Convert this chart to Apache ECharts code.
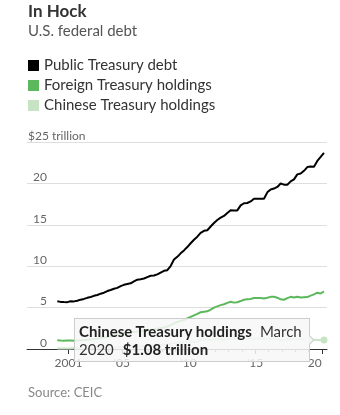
<!DOCTYPE html>
<html><head><meta charset="utf-8">
<script src="https://cdn.jsdelivr.net/npm/echarts@6/dist/echarts.min.js"></script>
<style>html,body{margin:0;padding:0;background:#fff}#c{width:340px;height:415px}</style>
</head><body><div id="c"></div>
<script>
// Quarter-end periods, Mar 2000 – Mar 2020
const periods = [
 '2000-03','2000-06','2000-09','2000-12','2001-03','2001-06','2001-09','2001-12',
 '2002-03','2002-06','2002-09','2002-12','2003-03','2003-06','2003-09','2003-12',
 '2004-03','2004-06','2004-09','2004-12','2005-03','2005-06','2005-09','2005-12',
 '2006-03','2006-06','2006-09','2006-12','2007-03','2007-06','2007-09','2007-12',
 '2008-03','2008-06','2008-09','2008-12','2009-03','2009-06','2009-09','2009-12',
 '2010-03','2010-06','2010-09','2010-12','2011-03','2011-06','2011-09','2011-12',
 '2012-03','2012-06','2012-09','2012-12','2013-03','2013-06','2013-09','2013-12',
 '2014-03','2014-06','2014-09','2014-12','2015-03','2015-06','2015-09','2015-12',
 '2016-03','2016-06','2016-09','2016-12','2017-03','2017-06','2017-09','2017-12',
 '2018-03','2018-06','2018-09','2018-12','2019-03','2019-06','2019-09','2019-12',
 '2020-03'
];
// $ trillion
const publicDebt = [
 5.77,5.69,5.67,5.66, 5.77,5.75,5.83,5.96, 6.05,6.18,6.28,6.42, 6.52,6.68,6.80,7.00,
 7.13,7.27,7.38,7.60, 7.75,7.84,7.93,8.17, 8.37,8.42,8.51,8.68, 8.85,8.87,9.01,9.23,
 9.44,9.52,10.02,10.80, 11.13,11.55,11.91,12.31, 12.77,13.20,13.56,14.03, 14.27,14.34,14.79,15.22,
 15.58,15.86,16.07,16.43, 16.77,16.74,16.74,17.35, 17.60,17.63,17.82,18.14, 18.15,18.15,18.15,18.92,
 19.26,19.38,19.57,19.98, 19.85,19.84,20.24,20.49, 21.09,21.20,21.52,21.97, 22.03,22.02,22.72,23.20,
 23.69
];
const foreignHoldings = [
 1.05,1.02,1.01,1.02, 1.03,1.01,1.03,1.05, 1.08,1.12,1.16,1.20, 1.25,1.32,1.38,1.45,
 1.55,1.65,1.75,1.85, 1.92,1.97,2.00,2.05, 2.10,2.15,2.20,2.25, 2.30,2.35,2.45,2.50,
 2.60,2.70,2.85,3.10, 3.26,3.40,3.50,3.69, 3.88,4.07,4.25,4.44, 4.50,4.55,4.75,5.00,
 5.15,5.30,5.40,5.57, 5.70,5.60,5.65,5.79, 5.95,6.00,6.05,6.15, 6.15,6.15,6.10,6.18,
 6.30,6.30,6.20,6.00, 5.95,6.15,6.30,6.21, 6.30,6.22,6.25,6.27, 6.45,6.60,6.80,6.70,
 6.95
];
const chineseHoldings = [
 0.06,0.06,0.06,0.06, 0.07,0.08,0.08,0.08, 0.09,0.10,0.11,0.12, 0.13,0.14,0.15,0.16,
 0.17,0.19,0.20,0.22, 0.24,0.26,0.29,0.31, 0.32,0.34,0.37,0.40, 0.42,0.45,0.47,0.48,
 0.50,0.52,0.62,0.73, 0.77,0.78,0.80,0.89, 0.90,0.84,0.88,1.16, 1.15,1.17,1.15,1.15,
 1.18,1.16,1.16,1.20, 1.25,1.28,1.29,1.27, 1.27,1.27,1.27,1.24, 1.26,1.27,1.26,1.25,
 1.25,1.24,1.16,1.06, 1.09,1.15,1.18,1.18, 1.19,1.19,1.15,1.12, 1.12,1.11,1.10,1.07,
 1.08
];
const seriesNames = ['Public Treasury debt','Foreign Treasury holdings','Chinese Treasury holdings'];
const yTicks = [0,5,10,15,20,25];
const yTickLabels = ['0','5','10','15','20','$25'];
const yUnit = 'trillion';
const xTicks = [2001,2005,2010,2015,2020];
const xTickLabels = ['2001',"'05","'10","'15",'20'];
const yearTicks = [2001,2002,2003,2004,2006,2007,2008,2009,2011,2012,2013,2014,2016,2017,2018,2019];
const monthNames = ['January','February','March','April','May','June','July','August','September','October','November','December'];

const FONT = 'Lato';
function toX(p){ const [y,m] = p.split('-').map(Number); return y + (m-1)/12; }
function pts(vals){ return periods.map((p,i)=>[toX(p), vals[i]]); }
const chineseData = pts(chineseHoldings).map((d,i,a)=> i===a.length-1 ? {value:d, symbol:'circle', symbolSize:7} : {value:d});

const xMin = 1997.894, xMax = 2020.392;
const chart = echarts.init(document.getElementById('c'), null, {renderer:'canvas'});
chart.setOption({
  animation:false,
  textStyle:{fontFamily:FONT},
  title:[
    {text:'In Hock', left:28, top:3, padding:0, textStyle:{fontFamily:FONT, fontSize:17, fontWeight:'bold', color:'#333'}},
    {text:'U.S. federal debt', left:28, top:24, padding:0, textStyle:{fontFamily:FONT, fontSize:15, fontWeight:'normal', color:'#555'}},
    {text:'Source: CEIC', left:28, top:386, padding:0, textStyle:{fontFamily:FONT, fontSize:13, fontWeight:'normal', color:'#888'}}
  ],
  legend:{
    orient:'vertical', left:28, top:58, padding:0, itemWidth:11, itemHeight:11, itemGap:5, icon:'rect',
    textStyle:{fontFamily:FONT, fontSize:15, color:'#333'}, selectedMode:false,
    data:seriesNames
  },
  grid:{left:27, right:13, top:142, bottom:66},
  tooltip:{
    trigger:'item', triggerOn:'none', alwaysShowContent:true, position:'left', transitionDuration:0,
    backgroundColor:'rgba(247,247,247,0.86)', borderColor:'#cccccc', borderWidth:1, padding:[3,4],
    textStyle:{fontFamily:FONT, fontSize:15, color:'#222'},
    extraCssText:'box-shadow:none;border-radius:0;line-height:18px;white-space:nowrap;width:226px;',
    formatter:function(p){
      const per = periods[p.dataIndex].split('-');
      const v = p.value[1];
      return '<b>'+p.seriesName+'</b><span style="margin-left:8px;color:#333">'+monthNames[+per[1]-1]+'</span><br>'+
        '<span style="color:#333">'+per[0]+'</span><b style="margin-left:9px">$'+v.toFixed(2)+' '+yUnit+'</b>';
    }
  },
  xAxis:[{
    type:'value', min:xMin, max:xMax,
    axisLine:{show:true, lineStyle:{color:'#333', width:1}},
    axisTick:{show:true, customValues:yearTicks, length:3, lineStyle:{color:'#555'}},
    axisLabel:{show:true, customValues:xTicks, margin:8, fontFamily:FONT, fontSize:12, color:'#666',
      alignMaxLabel:'right',
      formatter:function(v){ const i = xTicks.indexOf(Math.round(v)); return i>=0 ? xTickLabels[i] : ''; }},
    splitLine:{show:false}
  },{
    type:'value', min:xMin, max:xMax, position:'bottom',
    axisLine:{show:false}, axisLabel:{show:false}, splitLine:{show:false},
    axisTick:{show:true, customValues:xTicks, length:5, lineStyle:{color:'#333'}}
  }],
  yAxis:{
    type:'value', min:0, max:25, interval:5,
    axisLine:{show:false}, axisTick:{show:false},
    splitLine:{show:true, lineStyle:{color:'#dedede', width:1}},
    axisLabel:{
      inside:true, margin:1, align:'left', verticalAlign:'bottom', fontFamily:FONT, fontSize:12, color:'#666',
      formatter:function(v){
        const i = yTicks.indexOf(v); const t = i>=0 ? yTickLabels[i] : '';
        return v===25 ? '{w|'+t+'}{u| '+yUnit+'}' : '{n|'+t+'}';
      },
      rich:{
        n:{width:19, align:'right', fontFamily:FONT, fontSize:12, color:'#666'},
        w:{fontFamily:FONT, fontSize:12, color:'#666'},
        u:{fontFamily:FONT, fontSize:12, color:'#666'}
      }
    }
  },
  series:[
    {name:seriesNames[0], type:'line', data:pts(publicDebt), showSymbol:false, symbol:'none',
      lineStyle:{color:'#000', width:2}, itemStyle:{color:'#000'}, emphasis:{disabled:true}, z:3},
    {name:seriesNames[1], type:'line', data:pts(foreignHoldings), showSymbol:false, symbol:'none',
      lineStyle:{color:'#5cb85c', width:2}, itemStyle:{color:'#5cb85c'}, emphasis:{disabled:true}, z:2},
    {name:seriesNames[2], type:'line', data:chineseData, showSymbol:true, symbol:'none',
      lineStyle:{color:'#c6e4c3', width:2}, itemStyle:{color:'#c6e4c3'}, emphasis:{disabled:true}, z:2}
  ]
});
chart.dispatchAction({type:'showTip', seriesIndex:2, dataIndex:periods.length-1});
</script>
</body></html>
